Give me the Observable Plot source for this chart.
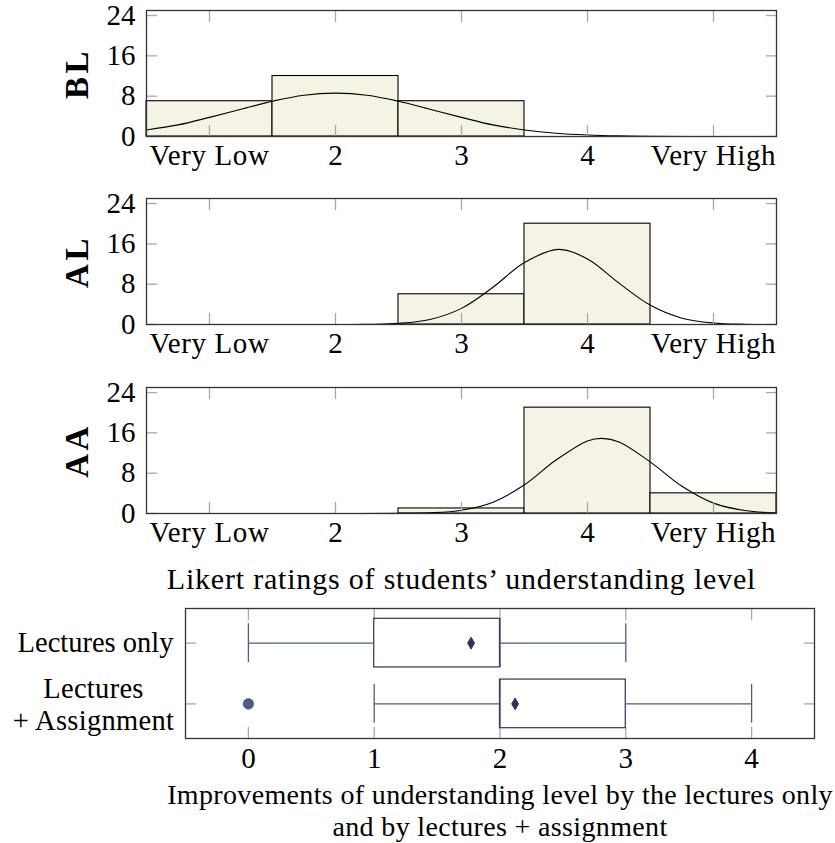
<!DOCTYPE html>
<html><head><meta charset="utf-8">
<script src="https://cdn.jsdelivr.net/npm/d3@7"></script>
<script src="https://cdn.jsdelivr.net/npm/@observablehq/plot@0.6"></script>
<style>
body{margin:0;background:#fff;}
#chart{position:relative;width:835px;height:843px;overflow:hidden;}
#chart svg{position:absolute;left:0;}
</style></head><body><div id="chart"></div>
<script>
// ---- data ----
const ratingBins = [1, 2, 3, 4, 5];
const ratingTickLabels = ["Very Low", "2", "3", "4", "Very High"];
const countTicks = [0, 8, 16, 24];
const panelNames = ["BL", "AL", "AA"];
const blCounts = [7, 12, 7, 0, 0];
const alCounts = [0, 0, 6, 20, 0];
const aaCounts = [0, 0, 1, 21, 4];
const blCurveX = [0.5, 0.75, 1, 1.25, 1.5, 1.75, 2, 2.25, 2.5, 2.75, 3, 3.25, 3.5, 3.75, 4, 4.25, 4.5, 5, 5.5];
const blCurveY = [1.3, 2.3, 3.8, 5.4, 7.0, 8.2, 8.6, 8.2, 7.0, 5.4, 3.8, 2.3, 1.3, 0.65, 0.3, 0.12, 0.05, 0, 0];
const alCurveX = [0.5, 1, 1.5, 2, 2.25, 2.5, 2.75, 3, 3.25, 3.5, 3.77, 4, 4.25, 4.5, 4.75, 5, 5.25, 5.5];
const alCurveY = [0, 0, 0, 0, 0.04, 0.23, 1.0, 3.2, 7.4, 12.3, 14.9, 13.0, 8.2, 3.8, 1.25, 0.3, 0.05, 0];
const aaCurveX = [0.5, 1, 1.5, 2, 2.5, 2.75, 3, 3.25, 3.5, 3.75, 4, 4.115, 4.25, 4.5, 4.75, 5, 5.25, 5.5];
const aaCurveY = [0, 0, 0, 0, 0.02, 0.13, 0.65, 2.25, 5.7, 10.6, 14.4, 14.9, 14.2, 10.2, 5.4, 2.06, 0.58, 0.12];
const histTitle = "Likert ratings of students\u2019 understanding level";

const boxGroups = ["Lectures only", "Lectures\n+ Assignment"];
const boxRows = [1, 2];
const whiskerLow = [0, 1];
const quartile1 = [1, 2];
const medians = [2, 2];
const quartile3 = [2, 3];
const whiskerHigh = [3, 4];
const means = [1.77, 2.12];
const outlierRows = [2];
const outlierValues = [0];
const improvementTicks = [0, 1, 2, 3, 4];
const boxTitle = "Improvements of understanding level by the lectures only\nand by lectures + assignment";

// ---- styling ----
const FONT = "Liberation Serif";
const FS = 29;
const TICK = "#a8a8a8";
const FRAME = "#333";
const BAR = "#f5f3e4";
const BOXC = "#3b4464";
const WHISK = "#525c7c";

const chart = document.getElementById("chart");

// letter-spacing tweaks applied to rendered text (matched by content)
function spaceText(svg, rules) {
  svg.querySelectorAll("text").forEach(t => {
    for (const [test, px] of rules) {
      if (test(t)) { t.style.letterSpacing = px + "px"; break; }
    }
  });
}

function histogram(name, counts, cx, cy, top, withTitle) {
  const bars = ratingBins.map((b, i) => ({x1: b - 0.5, x2: b + 0.5, count: counts[i]})).filter(d => d.count > 0);
  const curve = cx.map((x, i) => ({x, y: cy[i]}));
  const marks = [
    Plot.rect(bars, {x1: "x1", x2: "x2", y1: 0, y2: "count", fill: BAR, stroke: "#000", strokeWidth: 1.1}),
    Plot.line(curve, {x: "x", y: "y", curve: "catmull-rom", stroke: "#000", strokeWidth: 1.1, clip: true}),
    Plot.axisX(ratingBins, {anchor: "bottom", tickSize: -11, tickFormat: () => "", stroke: TICK, strokeWidth: 1.3, label: null}),
    Plot.axisX(ratingBins, {anchor: "top", tickSize: -11, tickFormat: () => "", stroke: TICK, strokeWidth: 1.3, label: null}),
    Plot.axisY(countTicks, {anchor: "left", tickSize: -11, tickFormat: () => "", stroke: TICK, strokeWidth: 1.3, label: null}),
    Plot.axisY(countTicks, {anchor: "right", tickSize: -11, tickFormat: () => "", stroke: TICK, strokeWidth: 1.3, label: null}),
    Plot.axisX(ratingBins, {anchor: "bottom", tickSize: 0, tickPadding: 8, fontSize: FS, tickFormat: d => ratingTickLabels[ratingBins.indexOf(d)], label: null}),
    Plot.axisY(countTicks, {anchor: "left", tickSize: 0, tickPadding: 11, fontSize: FS, label: null}),
    Plot.frame({stroke: FRAME, strokeWidth: 1.3}),
    Plot.text([name], {frameAnchor: "left", dx: -69, rotate: -90, textAnchor: "middle", lineAnchor: "middle", fontWeight: "bold", fontSize: 33})
  ];
  if (withTitle) marks.push(Plot.text([histTitle], {frameAnchor: "bottom", dy: 66, textAnchor: "middle", lineAnchor: "middle", fontSize: 30}));
  const p = Plot.plot({
    width: 835, height: withTitle ? 222 : 188,
    marginLeft: 146, marginRight: 59, marginTop: 10, marginBottom: withTitle ? 86 : 52,
    style: {fontFamily: FONT, fontSize: FS + "px", background: "transparent", overflow: "visible"},
    x: {domain: [0.5, 5.5], label: null},
    y: {domain: [0, 25], label: null},
    marks
  });
  spaceText(p, [
    [t => t.textContent === name, 3.5],
    [t => t.textContent === histTitle, 0.8],
    [t => /^Very/.test(t.textContent), 0.6]
  ]);
  p.style.top = top + "px";
  chart.appendChild(p);
}

histogram(panelNames[0], blCounts, blCurveX, blCurveY, 0, false);
histogram(panelNames[1], alCounts, alCurveX, alCurveY, 188.3, false);
histogram(panelNames[2], aaCounts, aaCurveX, aaCurveY, 376.7, true);

// ---- box plot ----
const rows = boxGroups.map((g, i) => ({label: g, pos: boxRows[i], lo: whiskerLow[i], q1: quartile1[i], med: medians[i], q3: quartile3[i], hi: whiskerHigh[i], mean: means[i]}));
const outliers = outlierRows.map((r, i) => ({pos: r, value: outlierValues[i]}));
const boxHalf = 0.4, capHalf = 0.32;
const bp = Plot.plot({
  width: 835, height: 245,
  marginLeft: 185, marginRight: 21, marginTop: 10, marginBottom: 105,
  style: {fontFamily: FONT, fontSize: FS + "px", background: "transparent", overflow: "visible"},
  x: {domain: [-0.5, 4.5], label: null},
  y: {domain: [0.43, 2.57], reverse: true, label: null},
  marks: [
    Plot.axisX(improvementTicks, {anchor: "bottom", tickSize: -11, tickFormat: () => "", stroke: TICK, strokeWidth: 1.3, label: null}),
    Plot.axisX(improvementTicks, {anchor: "top", tickSize: -11, tickFormat: () => "", stroke: TICK, strokeWidth: 1.3, label: null}),
    Plot.axisY(boxRows, {anchor: "left", tickSize: -11, tickFormat: () => "", stroke: TICK, strokeWidth: 1.3, label: null}),
    Plot.axisY(boxRows, {anchor: "right", tickSize: -11, tickFormat: () => "", stroke: TICK, strokeWidth: 1.3, label: null}),
    Plot.axisX(improvementTicks, {anchor: "bottom", tickSize: 0, tickPadding: 9, fontSize: FS, tickFormat: d => String(d), label: null}),
    Plot.ruleY(rows, {y: "pos", x1: "lo", x2: "q1", stroke: WHISK, strokeWidth: 1.3}),
    Plot.ruleY(rows, {y: "pos", x1: "q3", x2: "hi", stroke: WHISK, strokeWidth: 1.3}),
    Plot.ruleX(rows, {x: "lo", y1: d => d.pos - capHalf, y2: d => d.pos + capHalf, stroke: WHISK, strokeWidth: 1.3}),
    Plot.ruleX(rows, {x: "hi", y1: d => d.pos - capHalf, y2: d => d.pos + capHalf, stroke: WHISK, strokeWidth: 1.3}),
    Plot.rect(rows, {x1: "q1", x2: "q3", y1: d => d.pos - boxHalf, y2: d => d.pos + boxHalf, fill: "none", stroke: BOXC, strokeWidth: 1.3}),
    Plot.ruleX(rows, {x: "med", y1: d => d.pos - boxHalf, y2: d => d.pos + boxHalf, stroke: BOXC, strokeWidth: 1.3}),
    Plot.dot(rows, {x: "mean", y: "pos", symbol: "diamond", r: 3.6, fill: "#2b3556", stroke: "#2b3556", strokeWidth: 1}),
    Plot.dot(outliers, {x: "value", y: "pos", r: 5.3, fill: "#4a5c8a", stroke: "#3e4e78", strokeWidth: 0.6}),
    Plot.frame({stroke: FRAME, strokeWidth: 1.3}),
    Plot.text(rows.slice(0, 1), {y: "pos", text: "label", frameAnchor: "left", textAnchor: "end", dx: -12, fontSize: 28.5}),
    Plot.text(rows.slice(1), {y: "pos", text: "label", frameAnchor: "left", textAnchor: "middle", dx: -92, fontSize: 28.5, lineHeight: 1.1}),
    Plot.text([boxTitle], {frameAnchor: "bottom", dy: 71, textAnchor: "middle", lineAnchor: "middle", fontSize: 28, lineHeight: 1.14})
  ]
});
spaceText(bp, [
  [t => t.textContent.startsWith("Improvements"), 0.35],
  [t => t.textContent.startsWith("Lectures+") || t.textContent.startsWith("Lectures\n"), 0.3]
]);
bp.style.top = "598.3px";
chart.appendChild(bp);
</script>
</body></html>
